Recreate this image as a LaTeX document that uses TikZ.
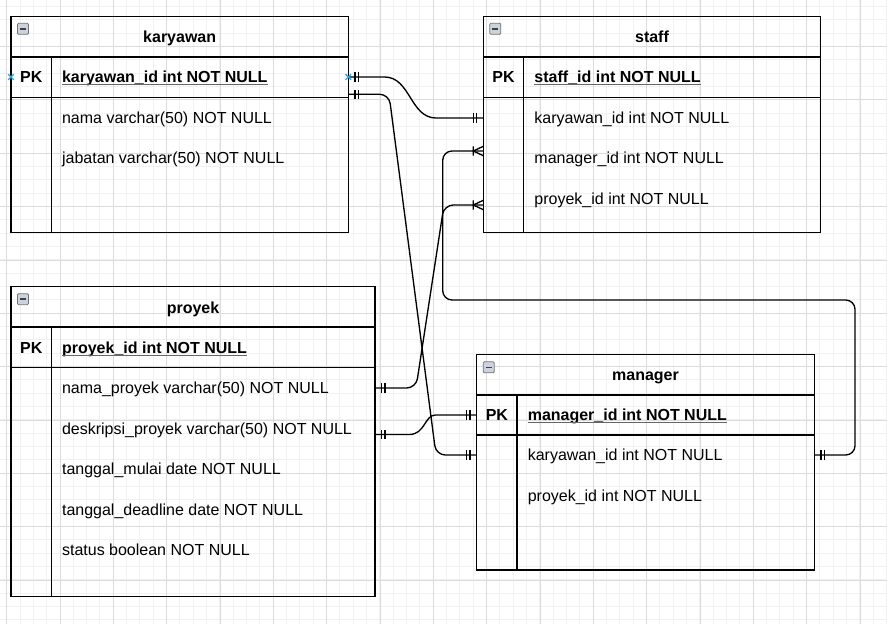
\documentclass[tikz,border=0pt]{standalone}
\usepackage{fontspec}
\setmainfont{Liberation Sans}
\usetikzlibrary{calc}
\definecolor{gridlight}{HTML}{F1F1F1}
\definecolor{griddark}{HTML}{DCDCDC}
\definecolor{hoverblue}{HTML}{2FA8E6}
\definecolor{iconfill}{HTML}{CDD3DC}
\newcommand{\px}{0.75pt}
\tikzset{
  ent/.style={draw, line width=1pt, inner sep=0pt, outer sep=0pt, anchor=north west},
  title/.style={inner sep=0pt, text height=8.6pt, text depth=0pt, font=\fontsize{12}{14.4}\selectfont\bfseries},
  pk/.style={title},
  keyfield/.style={title, anchor=west},
  field/.style={inner sep=0pt, text height=8.6pt, text depth=0pt, anchor=west, font=\fontsize{12}{14.4}\selectfont},
  uline/.style={black!60, line width=1pt},
  rel/.style={line width=1pt, rounded corners=7pt},
  onebar/.pic={\draw[line width=1pt] (-6.7,-4.7) -- (-6.7,4.7) (-10,-4.7) -- (-10,4.7);},
  crowfoot/.pic={\draw[line width=1pt] (-10,-4.7) -- (-10,4.7) (0,-4.7) -- (-10,0) -- (0,4.7);},
  hover/.pic={\draw[hoverblue, line width=1pt] (-2.8,-2.8) -- (2.8,2.8) (-2.8,2.8) -- (2.8,-2.8);},
  minus/.pic={\draw[line width=0.6pt, draw=black!55, fill=iconfill, rounded corners=0.8pt] (0,0) rectangle (11,11);
              \draw[line width=1.2pt, black!75] (2.5,5.5) -- (8.5,5.5);}
}
\begin{document}
\begin{tikzpicture}[x=\px, y=-\px]
  \fill[white] (0,0) rectangle (887,624);
  \useasboundingbox (0,0) rectangle (887,624);
  \foreach \i in {0,...,66} \draw[gridlight, line width=0.75pt] ({6.667+13.333*\i},0) -- ++(0,624);
  \foreach \j in {0,...,46} \draw[gridlight, line width=0.75pt] (0,{6.667+13.333*\j}) -- ++(887,0);
  \foreach \i in {0,...,16} \draw[griddark, line width=0.75pt] ({6.667+53.333*\i},0) -- ++(0,624);
  \foreach \j in {0,...,10} \draw[griddark, line width=0.75pt] (0,{46.667+53.333*\j}) -- ++(887,0);

  \begin{scope}[shift={(11,16.3)}]
    \node[ent, minimum width=337.3*\px, minimum height=216*\px] (karyawan) at (0,0) {};
    \draw[line width=1pt] (0,40.7) -- (337.3,40.7) (0,81) -- (337.3,81) (40.3,40.7) -- (40.3,216);
    \pic at (6.5,7) {minus};
    \node[title] (karyawan-title) at (168.7,20.7) {karyawan};
    \node[pk] (karyawan-pk) at (20.2,60.7) {PK};
    \node[keyfield] (karyawan-id) at (50.8,60.7) {karyawan\_id int NOT NULL};
    \node[field] (karyawan-nama) at (50.8,101.7) {nama varchar(50) NOT NULL};
    \node[field] (karyawan-jabatan) at (50.8,141.7) {jabatan varchar(50) NOT NULL};
  \end{scope}

  \begin{scope}[shift={(483.3,16.3)}]
    \node[ent, minimum width=337.4*\px, minimum height=216*\px] (staff) at (0,0) {};
    \draw[line width=1pt] (0,40.7) -- (337.4,40.7) (0,81) -- (337.4,81) (40.4,40.7) -- (40.4,216);
    \pic at (6.5,7) {minus};
    \node[title] (staff-title) at (168.7,20.7) {staff};
    \node[pk] (staff-pk) at (20.2,60.7) {PK};
    \node[keyfield] (staff-id) at (50.9,60.7) {staff\_id int NOT NULL};
    \node[field] (staff-kid) at (50.9,101.7) {karyawan\_id int NOT NULL};
    \node[field] (staff-mid) at (50.9,141.7) {manager\_id int NOT NULL};
    \node[field] (staff-pid) at (50.9,182.7) {proyek\_id int NOT NULL};
  \end{scope}

  \begin{scope}[shift={(11,286.7)}]
    \node[ent, minimum width=364*\px, minimum height=310*\px] (proyek) at (0,0) {};
    \draw[line width=1pt] (0,40.3) -- (364,40.3) (0,81) -- (364,81) (40.3,40.3) -- (40.3,310);
    \pic at (6.5,7) {minus};
    \node[title] (proyek-title) at (182,20.8) {proyek};
    \node[pk] (proyek-pk) at (20.2,61) {PK};
    \node[keyfield] (proyek-id) at (50.8,61) {proyek\_id int NOT NULL};
    \node[field] (proyek-nama) at (50.8,101.3) {nama\_proyek varchar(50) NOT NULL};
    \node[field] (proyek-desk) at (50.8,141.8) {deskripsi\_proyek varchar(50) NOT NULL};
    \node[field] (proyek-mulai) at (50.8,182.3) {tanggal\_mulai date NOT NULL};
    \node[field] (proyek-deadline) at (50.8,222.8) {tanggal\_deadline date NOT NULL};
    \node[field] (proyek-status) at (50.8,263.3) {status boolean NOT NULL};
  \end{scope}

  \begin{scope}[shift={(476.7,354.3)}]
    \node[ent, minimum width=337.6*\px, minimum height=215.7*\px] (manager) at (0,0) {};
    \draw[line width=1pt] (0,40.7) -- (337.6,40.7) (0,80.7) -- (337.6,80.7) (40.3,40.7) -- (40.3,215.7);
    \pic at (6.5,7.5) {minus};
    \node[title] (manager-title) at (168.8,20.2) {manager};
    \node[pk] (manager-pk) at (20.2,60.7) {PK};
    \node[keyfield] (manager-id) at (50.8,60.7) {manager\_id int NOT NULL};
    \node[field] (manager-kid) at (50.8,100.7) {karyawan\_id int NOT NULL};
    \node[field] (manager-pid) at (50.8,141.7) {proyek\_id int NOT NULL};
  \end{scope}

  \foreach \k in {karyawan-id, staff-id, proyek-id, manager-id}
    \draw[uline] ([yshift=-1.2pt]\k.south west) -- ([yshift=-1.2pt]\k.south east);

  \draw[rel] (karyawan.east |- karyawan-id) -- ++(27,0) .. controls +(35,0) and +(-35,0) .. ($(staff.west |- staff-kid)+(-38,0)$) -- (staff.west |- staff-kid);
  \draw[rel] ($(karyawan.east |- karyawan-id)+(0,17.3)$) -- ++(40.7,0) -- ($(manager.west |- manager-kid)+(-40.7,0)$) -- (manager.west |- manager-kid);
  \draw[rel] (proyek.east |- proyek-nama) -- ++(41,0) -- ($(staff.west |- staff-pid)+(-39.3,6)$) -- ($(staff.west |- staff-pid)+(0,6)$);
  \draw[rel] ($(proyek.east |- proyek-desk)+(0,6)$) -- ++(25,0) .. controls +(25,0) and +(-20,0) .. ($(manager.west |- manager-id)+(-32,0)$) -- (manager.west |- manager-id);
  \draw[rel] (manager.east |- manager-kid) -- ++(40.7,0) -- ++(0,-155) -- ($(staff.west |- staff-mid)+(-40.6,142)$) -- ($(staff.west |- staff-mid)+(-40.6,-7)$) -- ($(staff.west |- staff-mid)+(0,-7)$);

  \pic[rotate=180] at (karyawan.east |- karyawan-id) {onebar};
  \pic[rotate=180] at ($(karyawan.east |- karyawan-id)+(0,17.3)$) {onebar};
  \pic at (staff.west |- staff-kid) {onebar};
  \pic at (manager.west |- manager-kid) {onebar};
  \pic[rotate=180] at (proyek.east |- proyek-nama) {onebar};
  \pic at ($(staff.west |- staff-pid)+(0,6)$) {crowfoot};
  \pic[rotate=180] at ($(proyek.east |- proyek-desk)+(0,6)$) {onebar};
  \pic at (manager.west |- manager-id) {onebar};
  \pic[rotate=180] at (manager.east |- manager-kid) {onebar};
  \pic at ($(staff.west |- staff-mid)+(0,-7)$) {crowfoot};
  \pic at (karyawan.west |- karyawan-id) {hover};
  \pic at (karyawan.east |- karyawan-id) {hover};
\end{tikzpicture}
\end{document}
